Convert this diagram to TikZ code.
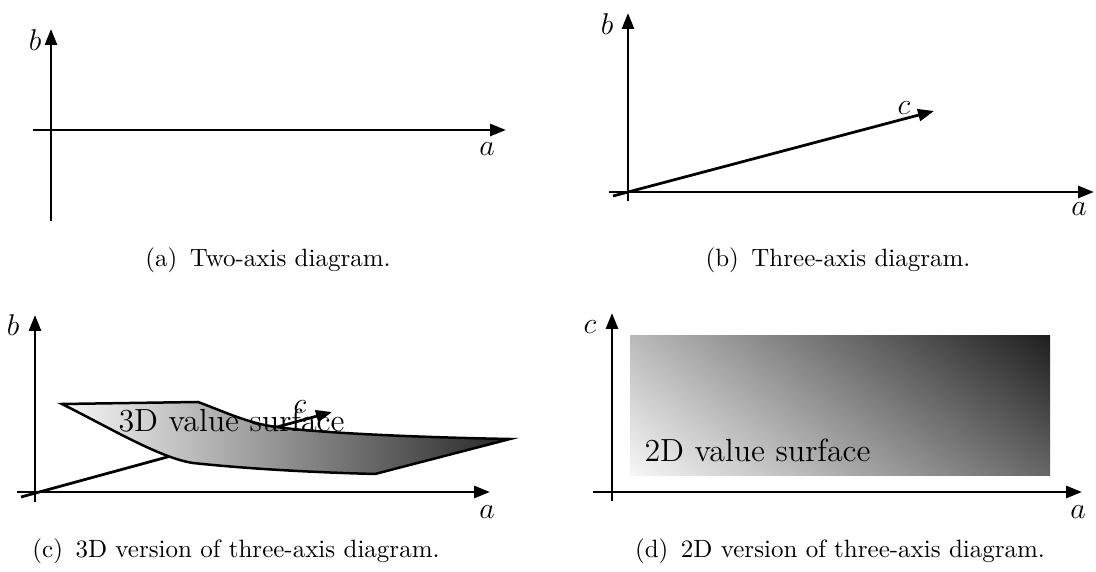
\documentclass[tikz,border=0pt]{standalone}
\usepackage{tikz}
\usetikzlibrary{arrows.meta,shadings}

\tikzset{
  axis/.style={line width=1.1pt,-{Triangle[length=6.4pt,width=4.8pt]}},
  axlabel/.style={font=\fontsize{13}{15}\selectfont, inner sep=0pt},
  surflabel/.style={font=\fontsize{12.8}{15}\selectfont, inner sep=0pt, anchor=base west},
  subcap/.style={font=\fontsize{10}{12}\selectfont, anchor=base, inner sep=0pt}
}

\begin{document}
\begin{tikzpicture}[x=0.4pt,y=-0.4pt]
\useasboundingbox (0,0) rectangle (1096,572);

% (a) two axes
\coordinate (aXs) at (33,130);
\coordinate (aXe) at (506,130);
\coordinate (aYs) at (51,221);
\coordinate (aYe) at (51,29);
\draw[axis] (aXs) -- (aXe);
\draw[axis] (aYs) -- (aYe);
\node[axlabel] (aLa) at (487,149) {$a$};
\node[axlabel] (aLb) at (35,40) {$b$};
\node[subcap] (capA) at (268,267) {(a)\enspace Two-axis diagram.};

% (b) three axes
\coordinate (bXs) at (609,192);
\coordinate (bXe) at (1094,192);
\coordinate (bYs) at (628,201);
\coordinate (bYe) at (628,13);
\coordinate (bZs) at (613,196);
\coordinate (bZe) at (934,111);
\draw[axis] (bXs) -- (bXe);
\draw[axis] (bYs) -- (bYe);
\draw[axis] (bZs) -- (bZe);
\node[axlabel] (bLa) at (1079,209) {$a$};
\node[axlabel] (bLb) at (607,24) {$b$};
\node[axlabel] (bLc) at (904,108) {$c$};
\node[subcap] (capB) at (838,267) {(b)\enspace Three-axis diagram.};

% (c) 3D surface
\coordinate (cXs) at (17,492);
\coordinate (cXe) at (490,492);
\coordinate (cYs) at (35,502);
\coordinate (cYe) at (35,315);
\coordinate (cZs) at (21,497);
\coordinate (cZe) at (332,412);
\draw[axis] (cXs) -- (cXe);
\draw[axis] (cYs) -- (cYe);
\draw[axis] (cZs) -- (cZe);
\draw[line width=1pt, left color=black!3, right color=black!85]
  (62,404) -- (198,402) .. controls (225,412) and (250,424) .. (277,427)
  .. controls (310,432) and (400,437) .. (510,439) -- (375,474)
  .. controls (300,472) and (240,468) .. (193,463)
  .. controls (160,458) and (110,428) .. (62,404) -- cycle;
\node[surflabel] (sur3) at (118,432) {3D value surface};
\node[axlabel] (cLc) at (300,407) {$c$};
\node[axlabel] (cLa) at (487,512) {$a$};
\node[axlabel] (cLb) at (13,325) {$b$};
\node[subcap] (capC) at (236,558) {(c)\enspace 3D version of three-axis diagram.};

% (d) 2D surface
\coordinate (dXs) at (593,492);
\coordinate (dXe) at (1082,492);
\coordinate (dYs) at (612,501);
\coordinate (dYe) at (612,313);
\shade[lower left=black!3, upper right=black!88, upper left=black!27, lower right=black!60]
  (630,336) rectangle (1050,476);
\draw[axis] (dXs) -- (dXe);
\draw[axis] (dYs) -- (dYe);
\node[surflabel] (sur2) at (644,462) {2D value surface};
\node[axlabel] (dLa) at (1078,512) {$a$};
\node[axlabel] (dLc) at (590,327) {$c$};
\node[subcap] (capD) at (840,558) {(d)\enspace 2D version of three-axis diagram.};

\end{tikzpicture}
\end{document}
